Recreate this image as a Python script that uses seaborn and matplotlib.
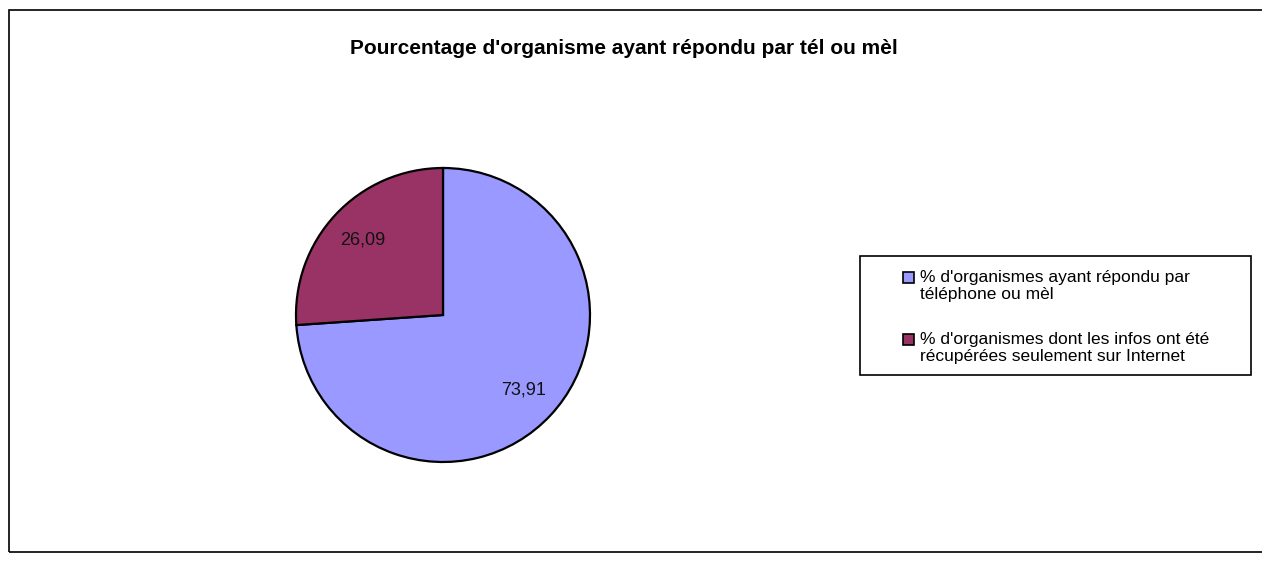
import matplotlib
matplotlib.use("Agg")
import matplotlib.pyplot as plt
from matplotlib.patches import Patch, Rectangle
from matplotlib.legend_handler import HandlerPatch
import seaborn as sns

# data
categories = [
    "% d'organismes ayant répondu par\ntéléphone ou mèl",
    "% d'organismes dont les infos ont été\nrécupérées seulement sur Internet",
]
shares = [73.91, 26.09]
slice_colors = ["#9999FF", "#993366"]
title = "Pourcentage d'organisme ayant répondu par tél ou mèl"

sns.set_theme(style="white")
plt.rcParams["font.family"] = ["Liberation Sans", "DejaVu Sans"]
plt.rcParams["text.color"] = "black"

W, H = 1262, 561
fig = plt.figure(figsize=(W / 100, H / 100), dpi=100)
fig.patch.set_facecolor("white")

# outer chart-area border (runs off the right edge like the original)
fig.add_artist(Rectangle((9 / W, 9 / H), 1.2, 542 / H, transform=fig.transFigure,
                         fill=False, edgecolor="black", linewidth=1.2))

cx, cy, r = 443, 315, 147
ax = fig.add_axes([(cx - r) / W, (H - cy - r) / H, 2 * r / W, 2 * r / H])
wedges, texts, autotexts = ax.pie(
    shares,
    colors=slice_colors,
    startangle=90,
    counterclock=False,
    autopct=lambda p: f"{p:.2f}".replace(".", ","),
    pctdistance=0.75,
    wedgeprops=dict(edgecolor="black", linewidth=1.6),
    textprops=dict(fontsize=13, color="#111111"),
)
for w in wedges:
    w.set_clip_on(False)
ax.set_xlim(-1, 1)
ax.set_ylim(-1, 1)
ax.set_aspect("equal")
ax.axis("off")

fig.text(624 / W, 1 - 48 / H, title, ha="center", va="center",
         fontsize=15, fontweight="bold", color="black")


def top_square(legend, orig_handle, xdescent, ydescent, width, height, fontsize):
    # Excel puts the key next to the first line of a wrapped label
    return Rectangle((-xdescent, -ydescent + 0.5 * fontsize), width, height)


handles = [Patch(facecolor=c, edgecolor="black", linewidth=1.2) for c in slice_colors]
leg = fig.legend(handles, categories, loc="upper left",
                 bbox_to_anchor=(903 / W, 1 - 270 / H),
                 fontsize=12.5, frameon=False,
                 handlelength=0.65, handleheight=0.65, handletextpad=0.35,
                 labelspacing=1.7, borderpad=0, borderaxespad=0,
                 handler_map={Patch: HandlerPatch(patch_func=top_square)})

# legend box, drawn separately for Excel's wide side padding
fig.add_artist(Rectangle((860 / W, 1 - 375 / H), 391 / W, 119 / H,
                         transform=fig.transFigure, fill=False,
                         edgecolor="black", linewidth=1.2))

fig.savefig("out.png", dpi=100, facecolor="white")
